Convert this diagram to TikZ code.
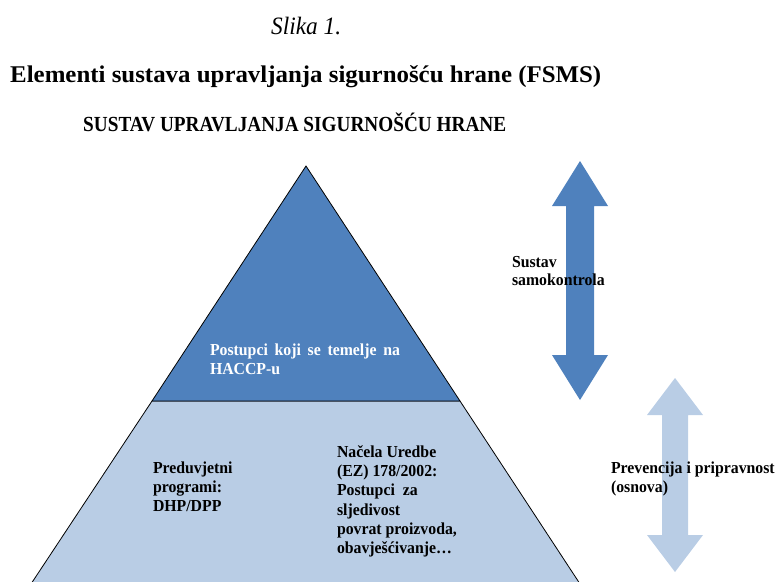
\documentclass[tikz,border=0pt]{standalone}
\usepackage{fontspec}
\usepackage{graphicx}
\setmainfont{Liberation Serif}
\newfontfamily\bodyfont[FakeStretch=0.94]{Liberation Serif}
\definecolor{darkblue}{HTML}{4F81BD}
\definecolor{lightblue}{HTML}{B9CDE5}
\tikzset{
  txt/.style={anchor=base west, inner sep=0pt, outer sep=0pt, font=\bodyfont\bfseries\fontsize{16.8}{18}\selectfont},
  wtxt/.style={txt, text=white},
  darkpart/.style={fill=darkblue, draw=black, line width=0.8pt, line join=miter},
  lightpart/.style={fill=lightblue, draw=black, line width=0.8pt, line join=miter},
  darkarrow/.style={fill=darkblue, draw=none},
  lightarrow/.style={fill=lightblue, draw=none}
}
\begin{document}
\begin{tikzpicture}[x=1pt,y=-1pt]
\useasboundingbox (0,0) rectangle (778,581);
% pyramid
\path[lightpart] (152,401) -- (460,401) -- (584,590) -- (27,590) -- cycle;
\path[darkpart] (306,166) -- (460,401) -- (152,401) -- cycle;
% arrows
\path[darkarrow] (580,161) -- (608,206) -- (594,206) -- (594,355) -- (608,355) -- (580,400)
  -- (552,355) -- (566,355) -- (566,206) -- (552,206) -- cycle;
\path[lightarrow] (675,378) -- (703,415) -- (688,415) -- (688,535) -- (703,535) -- (675,572)
  -- (647,535) -- (662,535) -- (662,415) -- (647,415) -- cycle;
% headings
\node[anchor=base west, inner sep=0pt] (slika) at (271,34)
  {\resizebox{70pt}{\height}{\itshape\fontsize{25}{26}\selectfont Slika 1.}};
\node[anchor=base west, inner sep=0pt] (title) at (10,82)
  {\resizebox{591pt}{\height}{\bfseries\fontsize{24}{26}\selectfont Elementi sustava upravljanja sigurnošću hrane (FSMS)}};
\node[anchor=base west, inner sep=0pt] (sustav) at (83,131)
  {\resizebox{423pt}{\height}{\bfseries\fontsize{21.5}{22}\selectfont SUSTAV UPRAVLJANJA SIGURNOŠĆU HRANE}};
% top part text
\node[wtxt] (h1) at (210,355) {\makebox[190pt][s]{Postupci koji se temelje na}};
\node[wtxt] (h2) at (210,374) {HACCP-u};
% bottom left text
\node[txt] (p1) at (153,473) {Preduvjetni};
\node[txt] (p2) at (153,492) {programi:};
\node[txt] (p3) at (153,511) {DHP/DPP};
% bottom right text
\node[txt] (n1) at (337,457) {Načela Uredbe};
\node[txt] (n2) at (337,476) {(EZ) 178/2002:};
\node[txt] (n3) at (337,495) {Postupci\ \ za};
\node[txt] (n4) at (337,515) {sljedivost};
\node[txt] (n5) at (337,534) {povrat proizvoda,};
\node[txt] (n6) at (337,553) {obavješćivanje…};
% arrow labels
\node[txt] (s1) at (512,267) {Sustav};
\node[txt] (s2) at (512,285) {samokontrola};
\node[txt] (r1) at (611,473) {Prevencija i pripravnost};
\node[txt] (r2) at (611,492) {(osnova)};
\end{tikzpicture}
\end{document}
